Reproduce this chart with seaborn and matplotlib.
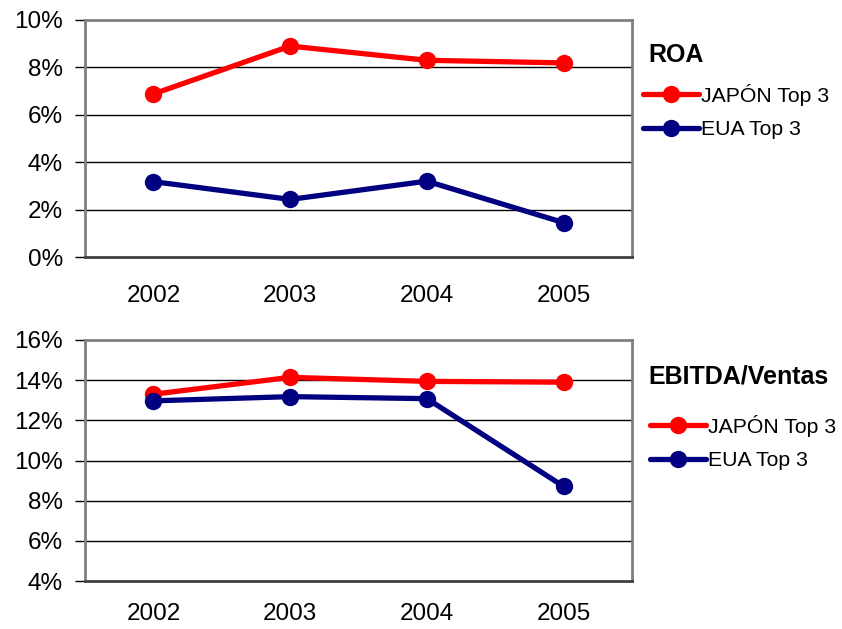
import matplotlib
matplotlib.use("Agg")
import matplotlib.pyplot as plt
import seaborn as sns
import pandas as pd

years = ["2002", "2003", "2004", "2005"]
roa_japon = [6.88, 8.90, 8.30, 8.19]
roa_eua = [3.18, 2.43, 3.20, 1.45]
ebitda_japon = [13.30, 14.14, 13.94, 13.90]
ebitda_eua = [12.97, 13.18, 13.08, 8.71]
series_names = ["JAPÓN Top 3", "EUA Top 3"]
colors = ["#FF0000", "#000080"]

sns.set_theme(style="white")
plt.rcParams['font.family'] = ['Liberation Sans', 'DejaVu Sans']
plt.rcParams['text.color'] = 'black'
plt.rcParams['xtick.color'] = 'black'
plt.rcParams['ytick.color'] = 'black'
plt.rcParams['xtick.labelcolor'] = 'black'
plt.rcParams['ytick.labelcolor'] = 'black'

fig = plt.figure(figsize=(8.42, 6.29), dpi=100)
W, H = 842, 629

def make_df(a, b):
    rows = []
    for i, y in enumerate(years):
        rows.append({"x": i, "year": y, "val": a[i], "serie": series_names[0]})
        rows.append({"x": i, "year": y, "val": b[i], "serie": series_names[1]})
    return pd.DataFrame(rows)

def panel(rect_px, a, b, ylim, yticks, title, title_y, leg_x, leg_top, xpad):
    l, t, r, btm = rect_px
    ax = fig.add_axes([l / W, 1 - btm / H, (r - l) / W, (btm - t) / H])
    df = make_df(a, b)
    sns.lineplot(data=df, x="x", y="val", hue="serie", palette=colors,
                 hue_order=series_names, marker="o", markersize=12.5,
                 markeredgewidth=0, linewidth=3.8, ax=ax, legend=True)
    ax.set_xlim(-0.5, 3.5)
    ax.set_ylim(*ylim)
    ax.set_yticks(yticks)
    ax.set_yticklabels([f"{v}%" for v in yticks])
    ax.set_xticks(range(4))
    ax.set_xticklabels(years)
    ax.set_xticks([-0.5, 0.5, 1.5, 2.5, 3.5], minor=True)
    ax.tick_params(axis="x", which="major", length=0, pad=xpad, labelsize=17.5,
                   labelcolor="black")
    ax.tick_params(axis="x", which="minor", length=7, width=1, color="black", direction="out")
    ax.tick_params(axis="y", length=7, width=1, color="black", direction="out", pad=9,
                   labelsize=17.5, left=True, labelcolor="black")
    ax.set_xlabel("")
    ax.set_ylabel("")
    for v in yticks[1:-1]:
        ax.axhline(v, color="black", linewidth=1, zorder=0)
    for s in ["top", "right", "left"]:
        ax.spines[s].set_color("#808080")
        ax.spines[s].set_linewidth(2)
    ax.spines["bottom"].set_color("#404040")
    ax.spines["bottom"].set_linewidth(2)
    ax.set_facecolor("white")
    handles, labels = ax.get_legend_handles_labels()
    ax.get_legend().remove()
    fig.text(648 / W, 1 - title_y / H, title, fontsize=18, fontweight="bold",
             ha="left", va="center", color="black")
    leg = fig.legend(handles, labels, loc="upper left",
                     bbox_to_anchor=(leg_x / W, 1 - leg_top / H),
                     frameon=False, fontsize=15.3, labelcolor="black",
                     handlelength=2.65, handletextpad=0.12, labelspacing=0.68,
                     borderpad=0)
    for h in leg.legend_handles:
        h.set_markersize(12.5)
        h.set_linewidth(3.8)
    return ax

panel((85, 20, 632, 257), roa_japon, roa_eua, (0, 10), [0, 2, 4, 6, 8, 10],
      "ROA", 55, 632, 73, 20)
panel((85, 340, 632, 581), ebitda_japon, ebitda_eua, (4, 16), [4, 6, 8, 10, 12, 14, 16],
      "EBITDA/Ventas", 377, 639, 404, 16)

fig.savefig("out.png", dpi=100, facecolor="white")
